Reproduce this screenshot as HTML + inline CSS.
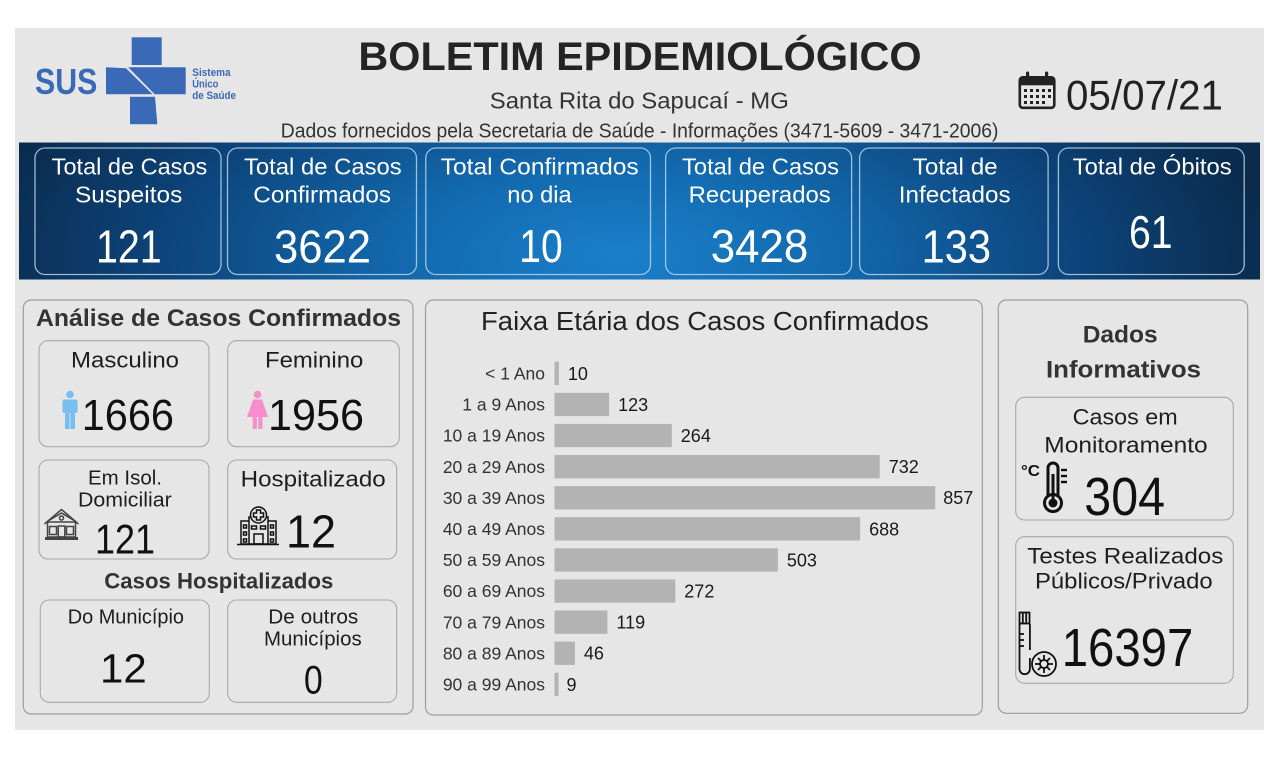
<!DOCTYPE html>
<html><head><meta charset="utf-8"><style>
html,body{margin:0;padding:0;background:#fff;}
svg{display:block;}
text{font-family:"Liberation Sans",sans-serif;}
</style></head><body>
<svg width="1280" height="759" viewBox="0 0 1280 759" xmlns="http://www.w3.org/2000/svg">
<defs>
<radialGradient id="bg" cx="620" cy="255" r="650" gradientUnits="userSpaceOnUse" gradientTransform="translate(620 255) scale(1 0.42) translate(-620 -255)">
<stop offset="0" stop-color="#1a80cb"/>
<stop offset="0.35" stop-color="#1268ac"/>
<stop offset="0.7" stop-color="#0d447b"/>
<stop offset="1" stop-color="#0a2b4d"/>
</radialGradient>
</defs>
<rect x="0" y="0" width="1280" height="759" fill="#ffffff"/>
<rect x="15" y="28" width="1249" height="702" fill="#e6e6e6"/>

<!-- SUS logo -->
<g fill="#3a6ab7">
<rect x="131.7" y="37.3" width="30" height="27.7"/>
<polygon points="106,67.3 126,68.3 152.5,94.3 106,94.3"/>
<polygon points="128.2,67.3 185.7,67.3 185.7,94.3 154.7,94.3"/>
<polygon points="130,96.7 155,96.7 157.3,124.3 130,124.3"/>
</g>
<text x="35" y="94" font-size="36" font-weight="bold" fill="#3a6ab7" textLength="62.3" lengthAdjust="spacingAndGlyphs">SUS</text>
<text x="192.3" y="76" font-size="11" font-weight="bold" fill="#3a6ab7" textLength="38.3" lengthAdjust="spacingAndGlyphs">Sistema</text>
<text x="192.3" y="87.3" font-size="11" font-weight="bold" fill="#3a6ab7" textLength="26" lengthAdjust="spacingAndGlyphs">Único</text>
<text x="192.3" y="99" font-size="11" font-weight="bold" fill="#3a6ab7" textLength="43.7" lengthAdjust="spacingAndGlyphs">de Saúde</text>

<!-- Header text -->
<text x="358.4" y="70" font-size="40" font-weight="bold" fill="#242424" textLength="563.2" lengthAdjust="spacingAndGlyphs">BOLETIM EPIDEMIOLÓGICO</text>
<text x="489.8" y="108.3" font-size="23.5" fill="#333" textLength="299" lengthAdjust="spacingAndGlyphs">Santa Rita do Sapucaí - MG</text>
<text x="280.8" y="137.5" font-size="20.5" fill="#333" textLength="717.6" lengthAdjust="spacingAndGlyphs">Dados fornecidos pela Secretaria de Saúde - Informações (3471-5609 - 3471-2006)</text>

<!-- Calendar -->
<g fill="#222">
<rect x="1019.8" y="77.3" width="34.5" height="30.5" rx="3" fill="none" stroke="#222" stroke-width="2.6"/>
<rect x="1019.8" y="77.3" width="34.5" height="8"/>
<rect x="1026" y="71.5" width="3.2" height="9" rx="1.5"/>
<rect x="1045" y="71.5" width="3.2" height="9" rx="1.5"/>
<rect x="1024" y="89" width="3" height="3"/><rect x="1030" y="89" width="3" height="3"/><rect x="1036" y="89" width="3" height="3"/><rect x="1042" y="89" width="3" height="3"/><rect x="1048" y="89" width="3" height="3"/>
<rect x="1024" y="95" width="3" height="3"/><rect x="1030" y="95" width="3" height="3"/><rect x="1036" y="95" width="3" height="3"/><rect x="1042" y="95" width="3" height="3"/><rect x="1048" y="95" width="3" height="3"/>
<rect x="1024" y="101" width="3" height="3"/><rect x="1030" y="101" width="3" height="3"/><rect x="1036" y="101" width="3" height="3"/><rect x="1042" y="101" width="3" height="3"/>
</g>
<text x="1066" y="109.3" font-size="42" fill="#222" textLength="157" lengthAdjust="spacingAndGlyphs">05/07/21</text>

<!-- Blue band -->
<rect x="19" y="142.5" width="1241" height="137" fill="url(#bg)"/>
<g fill="none" stroke="#b9d2e8" stroke-opacity="0.85" stroke-width="1.3">
<rect x="35" y="148" width="186" height="126.5" rx="10"/>
<rect x="227.5" y="148" width="189" height="126.5" rx="10"/>
<rect x="425.8" y="148" width="224.7" height="126.5" rx="10"/>
<rect x="665.6" y="148" width="186" height="126.5" rx="10"/>
<rect x="859.6" y="148" width="188.5" height="126.5" rx="10"/>
<rect x="1058.4" y="148" width="185.8" height="126.5" rx="10"/>
</g>
<g fill="#ffffff">
<text x="51.7" y="174.5" font-size="23" textLength="155.6" lengthAdjust="spacingAndGlyphs">Total de Casos</text>
<text x="75" y="202.3" font-size="23" textLength="107.3" lengthAdjust="spacingAndGlyphs">Suspeitos</text>
<text x="96" y="262.5" font-size="46" textLength="65.7" lengthAdjust="spacingAndGlyphs">121</text>

<text x="244" y="174.5" font-size="23" textLength="157.7" lengthAdjust="spacingAndGlyphs">Total de Casos</text>
<text x="253.3" y="202.3" font-size="23" textLength="137.7" lengthAdjust="spacingAndGlyphs">Confirmados</text>
<text x="274" y="262.5" font-size="46" textLength="97" lengthAdjust="spacingAndGlyphs">3622</text>

<text x="440.7" y="174.5" font-size="23" textLength="198" lengthAdjust="spacingAndGlyphs">Total Confirmados</text>
<text x="507.3" y="202.3" font-size="23" textLength="64.4" lengthAdjust="spacingAndGlyphs">no dia</text>
<text x="519.3" y="262" font-size="46" textLength="43.4" lengthAdjust="spacingAndGlyphs">10</text>

<text x="682" y="174.5" font-size="23" textLength="157" lengthAdjust="spacingAndGlyphs">Total de Casos</text>
<text x="688.7" y="202.3" font-size="23" textLength="142" lengthAdjust="spacingAndGlyphs">Recuperados</text>
<text x="710.7" y="262" font-size="46" textLength="97.6" lengthAdjust="spacingAndGlyphs">3428</text>

<text x="912.7" y="174.5" font-size="23" textLength="85" lengthAdjust="spacingAndGlyphs">Total de</text>
<text x="898.8" y="202.3" font-size="23" textLength="111.8" lengthAdjust="spacingAndGlyphs">Infectados</text>
<text x="921.6" y="262.5" font-size="46" textLength="69.4" lengthAdjust="spacingAndGlyphs">133</text>

<text x="1072.7" y="174.5" font-size="23" textLength="159" lengthAdjust="spacingAndGlyphs">Total de Óbitos</text>
<text x="1129" y="248" font-size="46" textLength="43.6" lengthAdjust="spacingAndGlyphs">61</text>
</g>

<!-- Panels -->
<g fill="none" stroke="#9d9d9d" stroke-width="1.2">
<rect x="23.3" y="300" width="389.7" height="414" rx="8"/>
<rect x="425.5" y="300" width="556.8" height="415" rx="8"/>
<rect x="998.3" y="300" width="249.4" height="413.3" rx="8"/>
</g>
<g fill="none" stroke="#a8a8a8" stroke-width="1.1">
<rect x="39" y="340.7" width="170" height="106" rx="9"/>
<rect x="227.7" y="340.7" width="171.6" height="106" rx="9"/>
<rect x="39" y="460" width="170" height="99" rx="9"/>
<rect x="227.7" y="460" width="169" height="99" rx="9"/>
<rect x="40.3" y="600" width="169" height="102.3" rx="9"/>
<rect x="227.7" y="600" width="169" height="102.3" rx="9"/>
<rect x="1015.7" y="397.3" width="217.6" height="122.7" rx="9"/>
<rect x="1015.7" y="536.7" width="217.6" height="146.6" rx="9"/>
</g>

<!-- Left panel text -->
<text x="36" y="326" font-size="24.5" font-weight="bold" fill="#333" textLength="365" lengthAdjust="spacingAndGlyphs">Análise de Casos Confirmados</text>
<g fill="#1e1e1e">
<text x="71" y="367.7" font-size="22" textLength="108" lengthAdjust="spacingAndGlyphs">Masculino</text>
<text x="81.7" y="430" font-size="44" fill="#111" textLength="92.3" lengthAdjust="spacingAndGlyphs">1666</text>
<text x="265" y="367.7" font-size="22" textLength="98.3" lengthAdjust="spacingAndGlyphs">Feminino</text>
<text x="268" y="430" font-size="44" fill="#111" textLength="96" lengthAdjust="spacingAndGlyphs">1956</text>
<text x="88" y="484.3" font-size="20.5" textLength="74" lengthAdjust="spacingAndGlyphs">Em Isol.</text>
<text x="78" y="506.7" font-size="20.5" textLength="93.7" lengthAdjust="spacingAndGlyphs">Domiciliar</text>
<text x="95" y="553.3" font-size="42" fill="#111" textLength="60" lengthAdjust="spacingAndGlyphs">121</text>
<text x="240.7" y="486.7" font-size="22" textLength="145" lengthAdjust="spacingAndGlyphs">Hospitalizado</text>
<text x="286" y="547.3" font-size="46" fill="#111" textLength="50" lengthAdjust="spacingAndGlyphs">12</text>
<text x="67.7" y="623.3" font-size="20.5" textLength="116.3" lengthAdjust="spacingAndGlyphs">Do Município</text>
<text x="100" y="682.7" font-size="41" fill="#111" textLength="46.7" lengthAdjust="spacingAndGlyphs">12</text>
<text x="268.3" y="623.3" font-size="20.5" textLength="90" lengthAdjust="spacingAndGlyphs">De outros</text>
<text x="264" y="645.5" font-size="20.5" textLength="97.7" lengthAdjust="spacingAndGlyphs">Municípios</text>
<text x="304" y="693.3" font-size="40" fill="#111" textLength="18.7" lengthAdjust="spacingAndGlyphs">0</text>
</g>
<text x="104.3" y="588.3" font-size="22" font-weight="bold" fill="#333" textLength="229" lengthAdjust="spacingAndGlyphs">Casos Hospitalizados</text>

<!-- Male icon -->
<g fill="#78bff0">
<circle cx="70" cy="394.5" r="3.8"/>
<rect x="62.5" y="399.5" width="15" height="13.5" rx="2"/>
<rect x="65" y="411" width="4.6" height="18"/>
<rect x="70.4" y="411" width="4.6" height="18"/>
</g>
<!-- Female icon -->
<g fill="#f78dcb">
<circle cx="257.5" cy="394.5" r="3.8"/>
<polygon points="253,399.5 262,399.5 268,417 247,417"/>
<rect x="252.7" y="415" width="4.2" height="14"/>
<rect x="258.3" y="415" width="4.2" height="14"/>
</g>
<!-- House icon -->
<g fill="none" stroke="#444" stroke-width="1.5">
<polyline points="44.5,524 61.5,509.5 78.5,524"/>
<polyline points="48,521 61.5,513 75,521"/>
<circle cx="61.5" cy="518" r="2"/>
<rect x="47.5" y="522" width="28" height="15"/>
<rect x="49.5" y="526.5" width="7" height="8"/>
<rect x="66.5" y="526.5" width="7" height="8"/>
<rect x="58.3" y="526" width="6.5" height="11"/>
</g>
<rect x="45" y="537" width="33" height="3" fill="#444"/>
<!-- Hospital icon -->
<g fill="none" stroke="#111" stroke-width="1.5">
<rect x="241" y="521" width="35" height="23"/>
<rect x="249" y="517" width="19" height="27" fill="#e6e6e6"/>
<circle cx="258.5" cy="515" r="8" fill="#e6e6e6"/>
<path d="M256.5 510v3h-3v4h3v3h4v-3h3v-4h-3v-3z"/>
<rect x="251.5" y="526" width="5" height="3"/><rect x="260.5" y="526" width="5" height="3"/>
<rect x="243.5" y="525" width="3" height="3"/><rect x="243.5" y="532" width="3" height="3"/><rect x="243.5" y="539" width="3" height="3"/>
<rect x="270.5" y="525" width="3" height="3"/><rect x="270.5" y="532" width="3" height="3"/><rect x="270.5" y="539" width="3" height="3"/>
<rect x="254" y="534" width="9" height="10"/>
<line x1="237" y1="544.5" x2="279" y2="544.5"/>
</g>

<!-- Middle panel -->
<text x="481" y="330" font-size="25.5" fill="#222" textLength="447.7" lengthAdjust="spacingAndGlyphs">Faixa Etária dos Casos Confirmados</text>
<g fill="#b3b3b3">
<rect x="554.5" y="361.7" width="4.4" height="23.3"/>
<rect x="554.5" y="392.8" width="54.6" height="23.3"/>
<rect x="554.5" y="423.9" width="117.3" height="23.3"/>
<rect x="554.5" y="455.0" width="325.2" height="23.3"/>
<rect x="554.5" y="486.1" width="380.7" height="23.3"/>
<rect x="554.5" y="517.2" width="305.6" height="23.3"/>
<rect x="554.5" y="548.3" width="223.4" height="23.3"/>
<rect x="554.5" y="579.4" width="120.8" height="23.3"/>
<rect x="554.5" y="610.5" width="52.9" height="23.3"/>
<rect x="554.5" y="641.6" width="20.4" height="23.3"/>
<rect x="554.5" y="672.7" width="4" height="23.3"/>
</g>
<g fill="#333" font-size="17.5" text-anchor="end">
<text x="545" y="379.5">&lt; 1 Ano</text>
<text x="545" y="410.6">1 a 9 Anos</text>
<text x="545" y="441.7">10 a 19 Anos</text>
<text x="545" y="472.8">20 a 29 Anos</text>
<text x="545" y="503.9">30 a 39 Anos</text>
<text x="545" y="535.0">40 a 49 Anos</text>
<text x="545" y="566.1">50 a 59 Anos</text>
<text x="545" y="597.2">60 a 69 Anos</text>
<text x="545" y="628.3">70 a 79 Anos</text>
<text x="545" y="659.4">80 a 89 Anos</text>
<text x="545" y="690.5">90 a 99 Anos</text>
</g>
<g fill="#1a1a1a" font-size="18">
<text x="567.9" y="379.8">10</text>
<text x="618.1" y="410.9">123</text>
<text x="680.8" y="442.0">264</text>
<text x="888.7" y="473.1">732</text>
<text x="943.2" y="504.2">857</text>
<text x="869.1" y="535.3">688</text>
<text x="786.9" y="566.4">503</text>
<text x="684.3" y="597.5">272</text>
<text x="616.4" y="628.6">119</text>
<text x="583.9" y="659.7">46</text>
<text x="566.5" y="690.8">9</text>
</g>

<!-- Right panel -->
<text x="1082.7" y="342.7" font-size="24.5" font-weight="bold" fill="#333" textLength="75" lengthAdjust="spacingAndGlyphs">Dados</text>
<text x="1046" y="377.3" font-size="24.5" font-weight="bold" fill="#333" textLength="155" lengthAdjust="spacingAndGlyphs">Informativos</text>
<g fill="#1e1e1e">
<text x="1072.7" y="424.3" font-size="22" textLength="105" lengthAdjust="spacingAndGlyphs">Casos em</text>
<text x="1044.3" y="452.3" font-size="22" textLength="163.4" lengthAdjust="spacingAndGlyphs">Monitoramento</text>
<text x="1084.3" y="515" font-size="54" fill="#111" textLength="80.7" lengthAdjust="spacingAndGlyphs">304</text>
<text x="1027.3" y="563.3" font-size="22" textLength="196" lengthAdjust="spacingAndGlyphs">Testes Realizados</text>
<text x="1035" y="588.5" font-size="22" textLength="177.7" lengthAdjust="spacingAndGlyphs">Públicos/Privado</text>
<text x="1061.7" y="666" font-size="54" fill="#111" textLength="131.6" lengthAdjust="spacingAndGlyphs">16397</text>
</g>
<!-- Thermometer icon -->
<text x="1021" y="476" font-size="16" font-weight="bold" fill="#111" textLength="19" lengthAdjust="spacingAndGlyphs">°C</text>
<g fill="none" stroke="#111" stroke-width="3">
<path d="M1048 496V468a5 5 0 0 1 10 0V496"/>
<circle cx="1053" cy="503" r="8.5"/>
<line x1="1053" y1="474" x2="1053" y2="500"/>
<line x1="1061" y1="470" x2="1067" y2="470" stroke-width="2.4"/>
<line x1="1061" y1="476" x2="1067" y2="476" stroke-width="2.4"/>
<line x1="1061" y1="482" x2="1067" y2="482" stroke-width="2.4"/>
</g>
<circle cx="1053" cy="503" r="4.5" fill="#111"/>
<!-- Test tube icon -->
<g fill="none" stroke="#111" stroke-width="1.8">
<rect x="1019.5" y="612.5" width="10" height="11"/>
<line x1="1022.8" y1="612.5" x2="1022.8" y2="623.5"/>
<line x1="1026.2" y1="612.5" x2="1026.2" y2="623.5"/>
<path d="M1019.5 624V669a5.2 5.2 0 0 0 10.4 0V658"/>
<path d="M1029.9 624V650"/>
<line x1="1019.5" y1="634" x2="1024" y2="634"/>
<line x1="1019.5" y1="640" x2="1024" y2="640"/>
<line x1="1019.5" y1="646" x2="1024" y2="646"/>
<circle cx="1044" cy="664" r="12" fill="#e6e6e6"/>
<circle cx="1044" cy="664" r="4"/>
<path d="M1044 655v5M1044 668v5M1035 664h5M1048 664h5M1038 658l3 3M1047 667l3 3M1050 658l-3 3M1041 667l-3 3"/>
</g>
</svg>
</body></html>
